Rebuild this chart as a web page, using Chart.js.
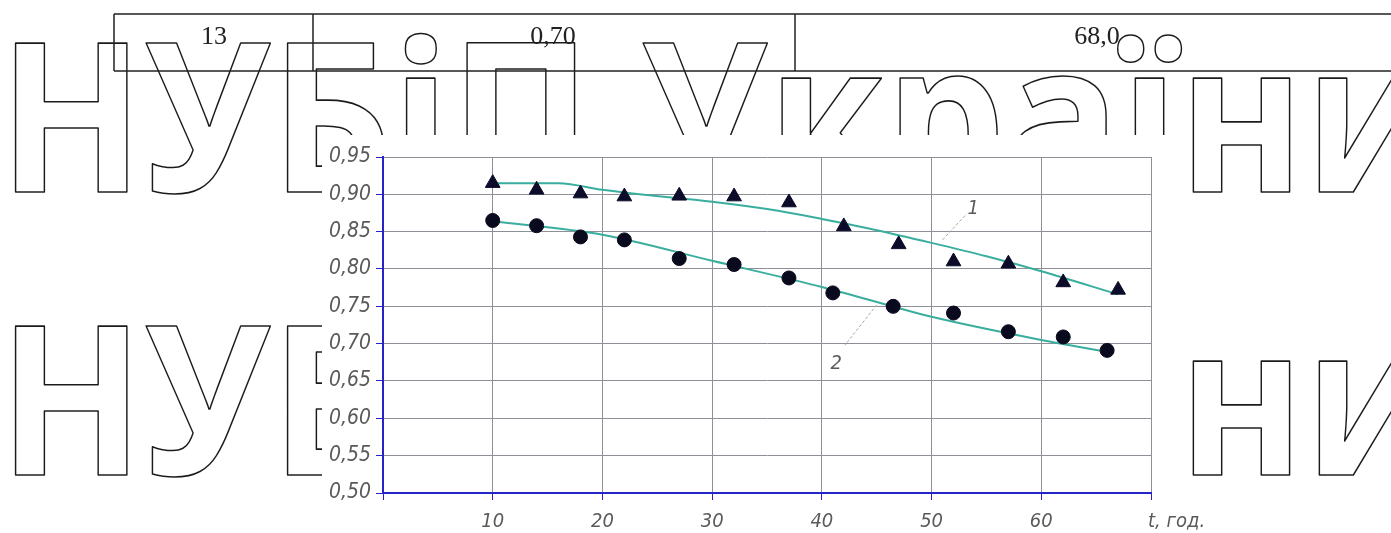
<!DOCTYPE html>
<html>
<head>
<meta charset="utf-8">
<script src="https://cdn.jsdelivr.net/npm/chart.js@4.4.1/dist/chart.umd.min.js"></script>
<style>
html,body{margin:0;padding:0;background:#fff;}
canvas{display:block;}
</style>
</head>
<body>
<canvas id="c" width="1391" height="533"></canvas>
<script>
// ---- data ----
const triX   = [10, 14, 18, 22, 27, 32, 37, 42, 47, 52, 57, 62, 67];
const triY   = [0.915, 0.906, 0.901, 0.897, 0.898, 0.897, 0.889, 0.857, 0.833, 0.810, 0.807, 0.782, 0.772];
const dotX   = [10, 14, 18, 22, 27, 32, 37, 41, 46.5, 52, 57, 62, 66];
const dotY   = [0.865, 0.858, 0.843, 0.839, 0.814, 0.806, 0.788, 0.768, 0.750, 0.741, 0.716, 0.709, 0.691];
const fit1X  = [10, 16, 20, 24, 30, 36, 40, 45, 50, 55, 60, 67];
const fit1Y  = [0.915, 0.915, 0.906, 0.899, 0.890, 0.878, 0.867, 0.852, 0.835, 0.817, 0.797, 0.766];
const fit2X  = [10, 20, 30, 40, 50, 60, 66];
const fit2Y  = [0.864, 0.846, 0.811, 0.776, 0.736, 0.705, 0.689];
const curveLabels = ['1', '2'];
const xTicks = [10, 20, 30, 40, 50, 60];
const xAxisTitle = 't, год.';
const tableCells = ['13', '0,70', '68,0'];
const watermark = 'НУБіП України';

const pts = (xs, ys) => xs.map((x, i) => ({x: x, y: ys[i]}));

const BLUE = '#2424c8';
const GRID = '#8e8e96';
const TXT  = '#5a5a5a';
const TICKFONT = "'DejaVu Sans Condensed','Liberation Sans Narrow','DejaVu Sans',sans-serif";

const background = {
  id: 'background',
  beforeDraw(chart) {
    const ctx = chart.ctx;
    ctx.save();
    ctx.fillStyle = '#fff';
    ctx.fillRect(0, 0, chart.width, chart.height);
    // watermark rows
    ctx.font = 'bold 209px "Open Sans", "Noto Sans", sans-serif';
    ctx.strokeStyle = '#1a1a1a';
    ctx.lineWidth = 1.6;
    ctx.lineJoin = 'round';
    const mAll = ctx.measureText(watermark);
    const prefix = ctx.measureText('НУБіП Украї').width;
    const sx = 1180 / prefix;
    const left = -mAll.actualBoundingBoxLeft;
    [192, 475].forEach(base => {
      ctx.save();
      ctx.translate(15, base);
      ctx.scale(sx, 1);
      ctx.strokeText(watermark, -left, 0);
      ctx.restore();
    });
    // white backdrop of the chart
    ctx.fillStyle = '#fff';
    ctx.fillRect(322, 135, 1186 - 322, 533 - 135);
    // table
    ctx.strokeStyle = '#222';
    ctx.lineWidth = 1.5;
    ctx.beginPath();
    ctx.moveTo(114, 14); ctx.lineTo(1391, 14);
    ctx.moveTo(114, 71); ctx.lineTo(1391, 71);
    ctx.moveTo(114, 14); ctx.lineTo(114, 71);
    ctx.moveTo(313, 14); ctx.lineTo(313, 71);
    ctx.moveTo(795, 14); ctx.lineTo(795, 71);
    ctx.stroke();
    ctx.fillStyle = '#222';
    ctx.font = '26px "Liberation Serif", serif';
    ctx.textAlign = 'center';
    ctx.textBaseline = 'alphabetic';
    const centers = [214, 553, 1097];
    tableCells.forEach((t, i) => ctx.fillText(t, centers[i], 44));
    ctx.restore();
  },
  afterDraw(chart) {
    const ctx = chart.ctx;
    const xs = chart.scales.x, ys = chart.scales.y;
    ctx.save();
    // leader lines and curve numbers
    ctx.strokeStyle = '#a8a8a8';
    ctx.lineWidth = 1;
    ctx.setLineDash([3, 2]);
    ctx.beginPath();
    ctx.moveTo(xs.getPixelForValue(51), ys.getPixelForValue(0.839));
    ctx.lineTo(xs.getPixelForValue(53.2), ys.getPixelForValue(0.874));
    ctx.moveTo(xs.getPixelForValue(45), ys.getPixelForValue(0.752));
    ctx.lineTo(xs.getPixelForValue(42.1), ys.getPixelForValue(0.698));
    ctx.stroke();
    ctx.setLineDash([]);
    ctx.fillStyle = TXT;
    ctx.font = 'italic 20px ' + TICKFONT;
    ctx.textAlign = 'center';
    ctx.textBaseline = 'middle';
    ctx.fillText(curveLabels[0], xs.getPixelForValue(53.8), ys.getPixelForValue(0.881));
    ctx.fillText(curveLabels[1], xs.getPixelForValue(41.3), ys.getPixelForValue(0.673));
    // axis title
    ctx.textAlign = 'left';
    ctx.fillText(xAxisTitle, xs.getPixelForValue(70) - 3, 522);
    ctx.restore();
  }
};

new Chart(document.getElementById('c'), {
  type: 'scatter',
  data: {
    datasets: [
      { data: pts(fit1X, fit1Y), showLine: true, borderColor: '#3aae9e', borderWidth: 2,
        pointRadius: 0, cubicInterpolationMode: 'monotone', order: 2 },
      { data: pts(fit2X, fit2Y), showLine: true, borderColor: '#3aae9e', borderWidth: 2,
        pointRadius: 0, cubicInterpolationMode: 'monotone', order: 2 },
      { data: pts(triX, triY), pointStyle: 'triangle', pointRadius: 8.5,
        backgroundColor: '#0c0c2a', borderColor: '#0c0c2a', borderWidth: 1, order: 1 },
      { data: pts(dotX, dotY), pointStyle: 'circle', pointRadius: 7,
        backgroundColor: '#0a0a1e', borderColor: '#0a0a1e', borderWidth: 1, order: 1 }
    ]
  },
  options: {
    responsive: false,
    animation: false,
    events: [],
    layout: { padding: { left: 0, right: 240, top: 157, bottom: 0 } },
    plugins: { legend: { display: false }, tooltip: { enabled: false } },
    scales: {
      x: {
        type: 'linear', min: 0, max: 70,
        afterFit(s) { s.height = 40; },
        afterBuildTicks(s) { s.ticks = [0].concat(xTicks, [70]).map(v => ({value: v})); },
        ticks: {
          callback: v => xTicks.includes(v) ? String(v) : '',
          color: TXT, padding: 10, maxRotation: 0,
          font: { family: TICKFONT, size: 20, style: 'italic' }
        },
        grid: { color: GRID, lineWidth: 1, tickColor: BLUE, tickLength: 7 },
        border: { display: true, color: BLUE, width: 2 }
      },
      y: {
        type: 'linear', min: 0.5, max: 0.95,
        afterFit(s) { s.width = 383; },
        ticks: {
          stepSize: 0.05,
          callback: v => v.toFixed(2).replace('.', ','),
          color: TXT, padding: 5,
          font: { family: TICKFONT, size: 21, style: 'italic' }
        },
        grid: { color: GRID, lineWidth: 1, tickColor: BLUE, tickLength: 7 },
        border: { display: true, color: BLUE, width: 2 }
      }
    }
  },
  plugins: [background]
});
</script>
</body>
</html>
